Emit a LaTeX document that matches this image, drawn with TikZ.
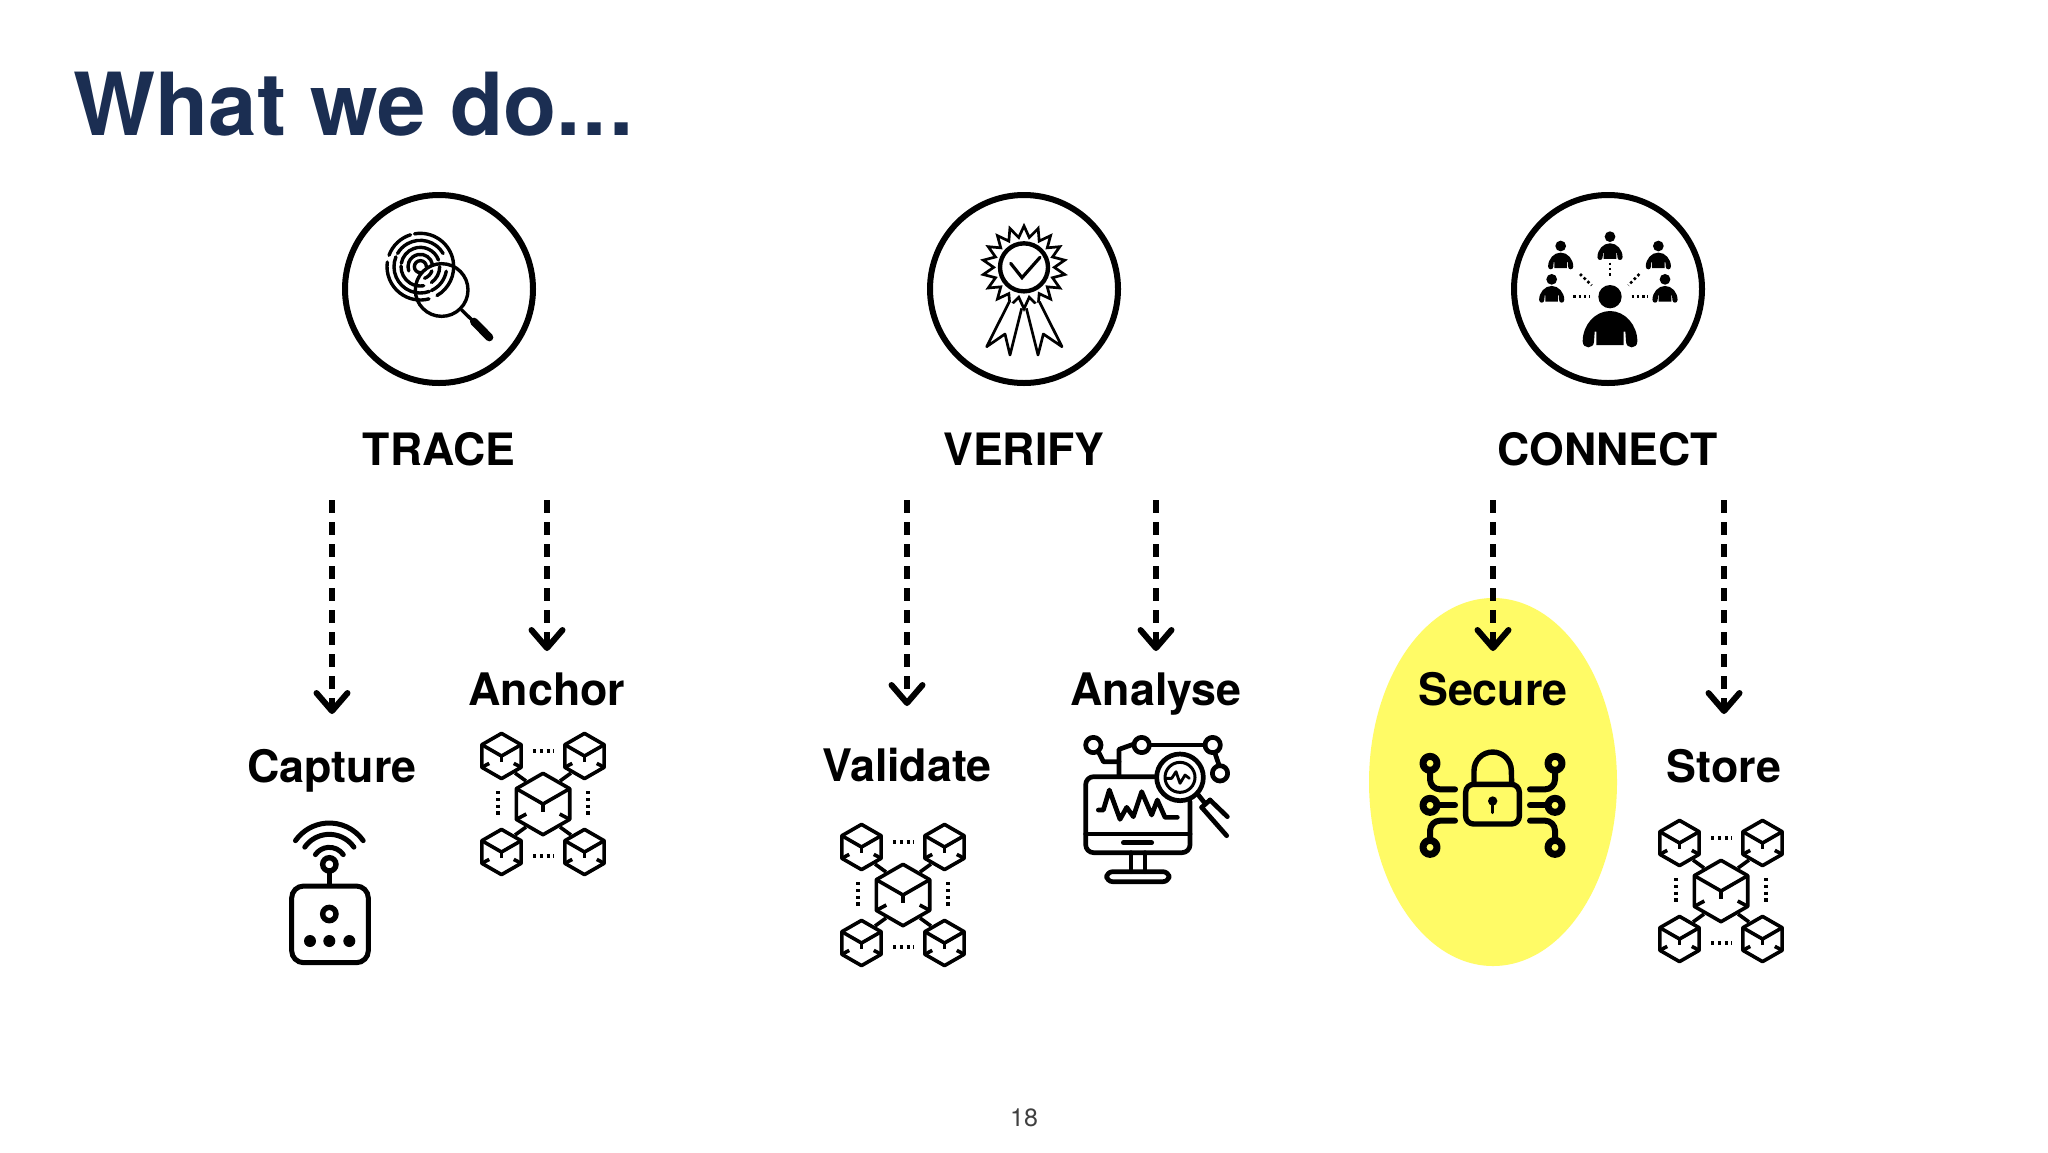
\documentclass[tikz,border=0pt]{standalone}
\usepackage{fontspec}
\setmainfont{TeX Gyre Heros}
\usetikzlibrary{arrows.meta}
\definecolor{navy}{HTML}{1B2E52}
\definecolor{hilite}{HTML}{FFFB66}
\tikzset{
  ring/.style={draw=black,line width=3pt,fill=white},
  head/.style={font=\bfseries\fontsize{22.3}{26}\selectfont,text=black,inner sep=0pt,anchor=base},
  sub/.style={font=\bfseries\fontsize{22.4}{26}\selectfont,text=black,inner sep=0pt,anchor=base},
  flow/.style={line width=3pt,dash pattern=on 6.5pt off 4.5pt,-{Straight Barb[length=9pt,width=15.5pt,line width=3pt,round]}},
  zoomed/.style={x=0.16667pt,y=-0.16667pt}
}
\newcommand{\cubeicon}[3]{%
  \begin{scope}[shift={(#1,#2)},x=#3*0.5pt/92,y=-#3*0.5pt/92,line width=1.8pt,line join=round,line cap=butt]
    \draw (0,-92) -- (80,-46) -- (80,46) -- (0,92) -- (-80,46) -- (-80,-46) -- cycle;
    \draw (-80,-46) -- (0,0) -- (80,-46);
    \draw (0,0) -- (0,25);
    \draw (-80,46) -- (-50,30);
    \draw (80,46) -- (50,30);
  \end{scope}}
\newcommand{\network}[2]{%
  \begin{scope}[shift={(#1,#2)}]
    \cubeicon{0}{0}{30.7}
    \cubeicon{-41.5}{-48}{22.6}
    \cubeicon{41.5}{-48}{22.6}
    \cubeicon{-41.5}{48}{22.6}
    \cubeicon{41.5}{48}{22.6}
    \draw[line width=1.8pt] (-28,-31) -- (-17,-23);
    \draw[line width=1.8pt] (28,-31) -- (17,-23);
    \draw[line width=1.8pt] (-28,31) -- (-17,23);
    \draw[line width=1.8pt] (28,31) -- (17,23);
    \draw[line width=1.8pt,dash pattern=on 1.7pt off 1.7pt] (-10,-53) -- (11,-53);
    \draw[line width=1.8pt,dash pattern=on 1.7pt off 1.7pt] (-10,52) -- (11,52);
    \draw[line width=1.8pt,dash pattern=on 1.7pt off 1.7pt] (-45,-13) -- (-45,14);
    \draw[line width=1.8pt,dash pattern=on 1.7pt off 1.7pt] (45,-13) -- (45,14);
  \end{scope}}
\newcommand{\person}[3]{%
  \begin{scope}[shift={(#1,#2)},x=#3*0.16667pt,y=-#3*0.16667pt]
    \fill (0,0) circle[radius=35];
    \fill (-82,134) .. controls (-82,85) and (-45,43) .. (0,43)
      .. controls (45,43) and (82,85) .. (82,134)
      .. controls (82,158) and (48,158) .. (48,134) -- (46,105) -- (41,105) -- (41,145)
      -- (-41,145) -- (-41,105) -- (-46,105) -- (-48,134)
      .. controls (-48,158) and (-82,158) .. (-82,134) -- cycle;
  \end{scope}}
\begin{document}
\begin{tikzpicture}[x=0.5pt,y=-0.5pt]
\useasboundingbox (0,0) rectangle (2048,1152);
\fill[white] (0,0) rectangle (2048,1152);
\node[anchor=base west,inner sep=0pt,text=navy,font=\bfseries\fontsize{43.5}{50}\selectfont] (title) at (73,135) {What we do.\kern1.2pt.\kern1.2pt.};
\node[inner sep=0pt,font=\fontsize{12.5}{15}\selectfont,text=black!75] (page) at (1024,1118) {18};

\fill[hilite] (1493,782) ellipse[x radius=124,y radius=184];

\node[ring,circle,minimum size=94pt,inner sep=0pt] (ctrace) at (439,289) {};
\node[ring,circle,minimum size=94pt,inner sep=0pt] (cverify) at (1024,289) {};
\node[ring,circle,minimum size=94pt,inner sep=0pt] (cconnect) at (1608,289) {};

\node[head] (trace) at (439,465) {TRACE};
\node[head] (verify) at (1024,465) {VERIFY};
\node[head] (connect) at (1608,465) {CONNECT};

\node[sub] (capture) at (332,782) {Capture};
\node[sub] (anchorlabel) at (547,705) {Anchor};
\node[sub] (validate) at (907,781) {Validate};
\node[sub] (analyse) at (1156,705) {Analyse};
\node[sub] (secure) at (1493,705) {Secure};
\node[sub] (store) at (1724,782) {Store};

\coordinate (a1s) at (332,500); \coordinate (a1e) at (332,714);
\coordinate (a2s) at (547,500); \coordinate (a2e) at (547,651);
\coordinate (a3s) at (907,500); \coordinate (a3e) at (907,706);
\coordinate (a4s) at (1156,500); \coordinate (a4e) at (1156,651);
\coordinate (a5s) at (1493,500); \coordinate (a5e) at (1493,651);
\coordinate (a6s) at (1724,500); \coordinate (a6e) at (1724,714);
\draw[flow] (a1s) -- (a1e);
\draw[flow] (a2s) -- (a2e);
\draw[flow] (a3s) -- (a3e);
\draw[flow] (a4s) -- (a4e);
\draw[flow] (a5s) -- (a5e);
\draw[flow] (a6s) -- (a6e);

% fingerprint and lens
\begin{scope}[shift={(320,180)},zoomed,line width=1.7pt,line cap=round]
  \foreach \r/\a/\b in {100/100/-60,100/107/160,100/172/285,
                        79/30/150,79/158/290,79/-10/-65,
                        58/20/170,58/178/280,58/0/-55,
                        37/10/200,37/-20/-70,
                        18/0/180,18/180/270}{
    \draw (301,260) ++(\a:\r*0.16667pt) arc[start angle=\a,end angle=\b,radius=\r*0.16667pt];
  }
  \draw[line width=1.7pt] (365,330) circle[radius=79];
  \draw[line width=1.7pt] (425,390) -- (458,422);
  \draw[line width=4pt] (462,425) -- (508,472);
\end{scope}

% rosette
\begin{scope}[shift={(910,180)},zoomed,line width=1.35pt,line join=miter]
  \draw plot[samples at={0,...,35},variable=\k] ({342+(mod(\k,2)==0?124:91)*cos(90+\k*10)},{262-(mod(\k,2)==0?124:91)*sin(90+\k*10)}) -- cycle;
  \draw[fill=white,line width=2.2pt] (342,262) circle[radius=72];
  \draw[line width=1.6pt,line cap=round] (302,250) -- (336,293) -- (390,232);
  \draw[fill=white,line join=round] (298,365) -- (230,500) -- (285,462) -- (300,525) -- (335,385);
  \draw[fill=white,line join=round] (388,365) -- (456,500) -- (400,462) -- (384,525) -- (349,385);
\end{scope}

% people
\begin{scope}[shift={(1490,180)},zoomed]
  \person{360}{350}{1}
  \person{360}{170}{0.46}
  \person{212}{198}{0.46}
  \person{505}{198}{0.46}
  \person{185}{298}{0.46}
  \person{525}{298}{0.46}
  \begin{scope}[line width=1.3pt,dash pattern=on 1.3pt off 1.3pt]
    \draw (250,349) -- (298,349);
    \draw (425,349) -- (472,349);
    \draw (360,248) -- (360,294);
    \draw (270,282) -- (305,316);
    \draw (448,282) -- (415,316);
  \end{scope}
\end{scope}

% capture device
\begin{scope}[shift={(270,800)},zoomed,line width=2.5pt,line cap=round]
  \draw[rounded corners=6pt] (65,258) rectangle (295,488);
  \draw[line width=2.7pt] (178,342) circle[radius=20];
  \fill (120,423) circle[radius=18] (178,423) circle[radius=18] (238,423) circle[radius=18];
  \draw[line width=2.7pt] (178,193) circle[radius=20];
  \draw[line cap=butt] (178,214) -- (178,258);
  \foreach \r in {51,90,124}{
    \draw (178,193) ++(35:\r*0.16667pt) arc[start angle=35,end angle=145,radius=\r*0.16667pt];
  }
\end{scope}

% networks
\network{543}{804}
\network{903}{895}
\network{1721}{891}

% analyse
\begin{scope}[shift={(1070,720)},zoomed,line width=2.35pt,line join=round,line cap=round]
  \draw[rounded corners=4pt] (255,170) -- (47,170) -- (47,398) -- (360,398) -- (360,245);
  \draw (47,342) -- (360,342);
  \draw (160,368) -- (245,368);
  \draw (183,398) -- (183,455);
  \draw (225,398) -- (225,455);
  \draw[rounded corners=3pt] (110,455) rectangle (297,485);
  \draw (330,172) circle[radius=70];
  \draw[line width=1.5pt] (330,172) circle[radius=45];
  \draw[line width=1.4pt] (287,175) -- (305,175) -- (318,155) -- (330,190) -- (345,165) -- (358,175);
  \draw (85,270) -- (100,270) -- (118,210) -- (150,298) -- (170,262) -- (190,290) -- (215,215) -- (245,285) -- (262,240) -- (285,292) -- (322,292);
  \draw (385,225) -- (405,250);
  \draw (420,240) -- (472,290);
  \draw (395,262) -- (470,347);
  \draw (420,240) -- (395,262);
  \draw (70,75) circle[radius=23];
  \draw (215,75) circle[radius=23];
  \draw (428,75) circle[radius=23];
  \draw (450,160) circle[radius=23];
  \draw (85,95) -- (100,125) -- (147,125);
  \draw (147,170) -- (147,88) -- (192,72);
  \draw (240,75) -- (405,75);
  \draw (435,100) -- (447,135);
\end{scope}

% secure
\begin{scope}[shift={(1400,730)},zoomed,line width=3pt,line join=round,line cap=round]
  \draw[line width=2.7pt,rounded corners=4pt] (197,163) rectangle (358,282);
  \draw[line width=2.7pt] (222,163) -- (222,122) arc[start angle=180,end angle=0,radius=9.33pt] -- (335,163);
  \fill (278,213) circle[radius=14];
  \draw[line width=1.4pt] (278,213) -- (278,248);
  \foreach \yy in {100,226,352}{
    \draw[line width=3.5pt] (90,\yy) circle[radius=21];
    \draw[line width=3.5pt] (465,\yy) circle[radius=21];
  }
  \draw[rounded corners=5pt] (90,122) -- (90,178) -- (165,178);
  \draw (112,226) -- (165,226);
  \draw[rounded corners=5pt] (90,330) -- (90,272) -- (165,272);
  \draw[rounded corners=5pt] (465,122) -- (465,178) -- (390,178);
  \draw (443,226) -- (390,226);
  \draw[rounded corners=5pt] (465,330) -- (465,272) -- (390,272);
\end{scope}
\end{tikzpicture}
\end{document}
